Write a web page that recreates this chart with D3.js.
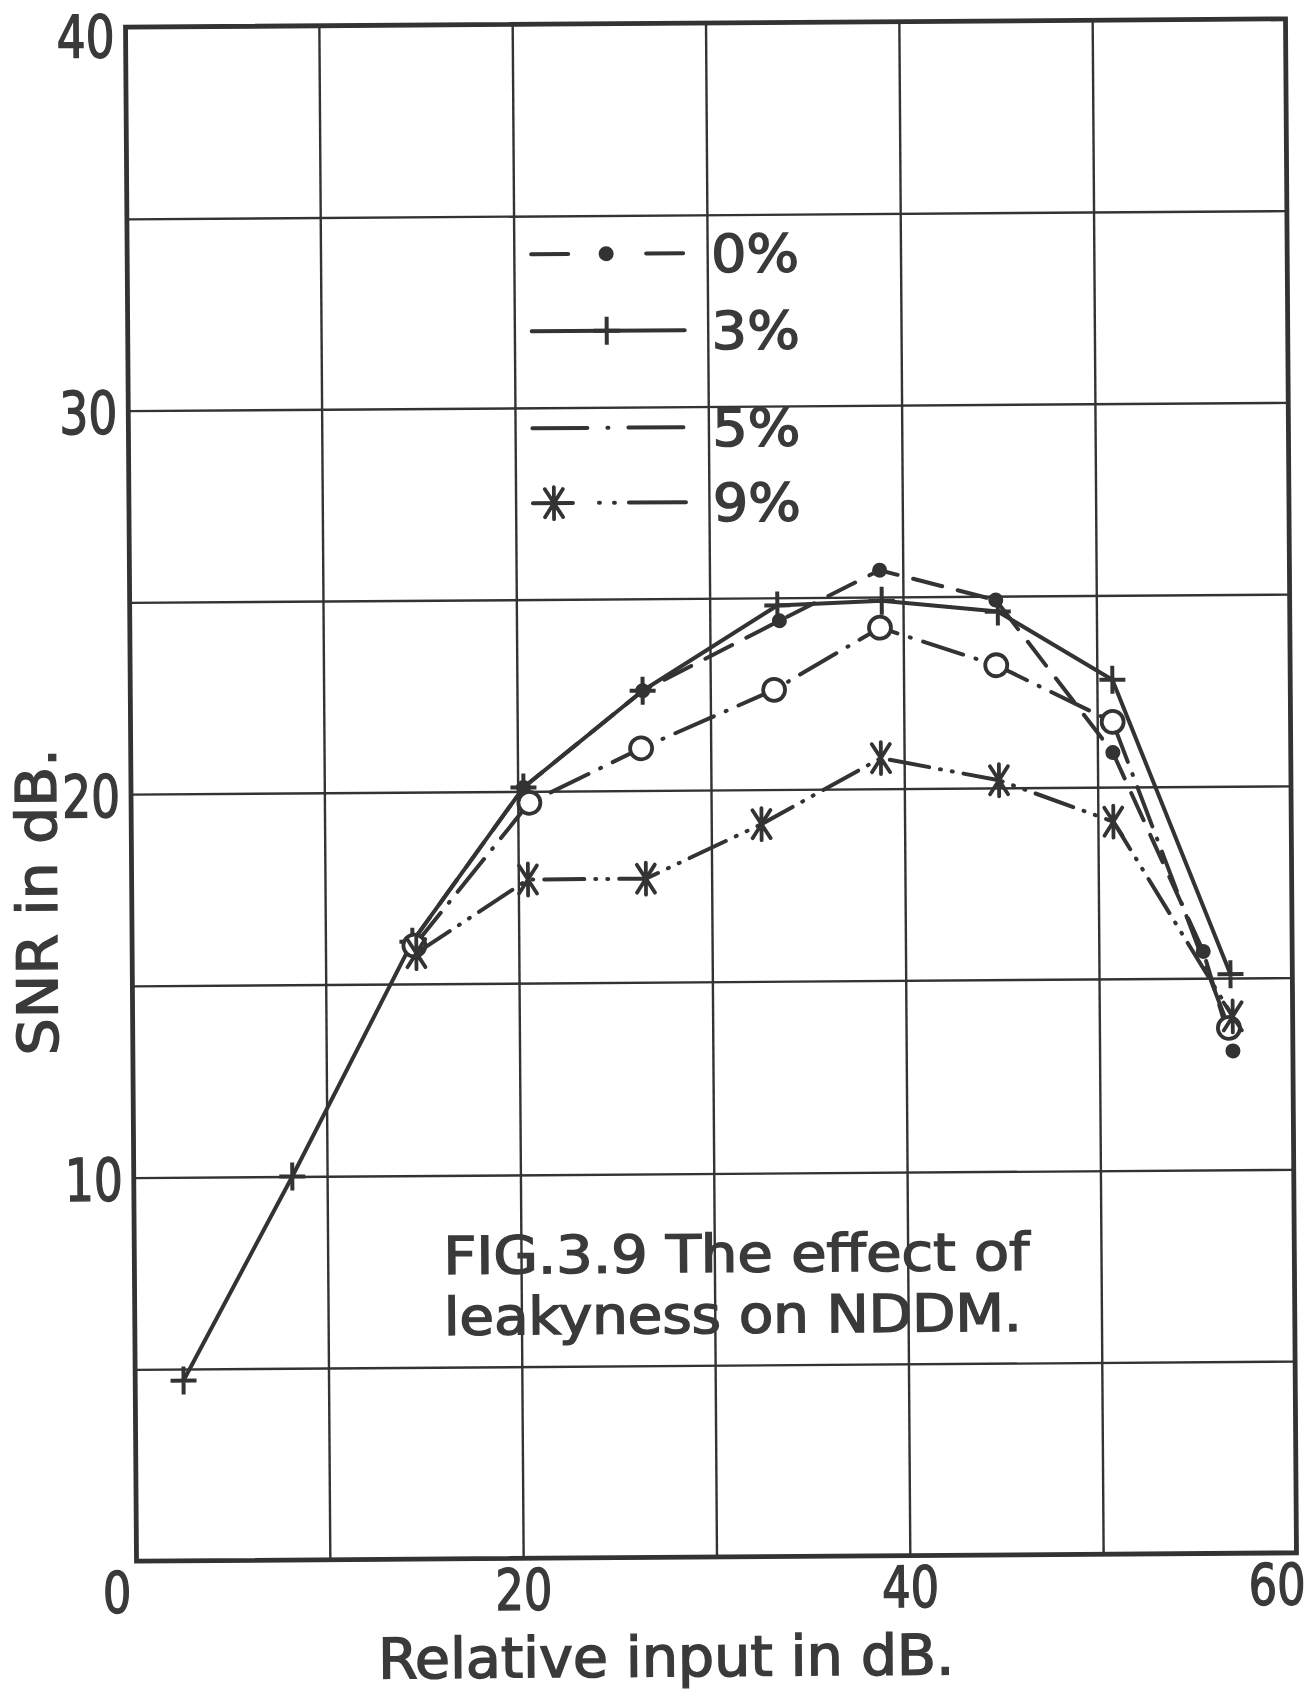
<!DOCTYPE html>
<html lang="en">
<head>
<meta charset="UTF-8">
<title>FIG 3.9 leakyness on NDDM</title>
<script src="https://cdn.jsdelivr.net/npm/d3@7"></script>
<style>
  body { margin: 0; background: #fff; }
  text { font-family: "DejaVu Sans Condensed", "DejaVu Sans", sans-serif; fill: #3a3a3a; stroke: #3a3a3a; stroke-width: 1.4px; }
</style>
</head>
<body>
<script>
// ---- data ----
const xTicks = [0, 10, 20, 30, 40, 50, 60];
const yTicks = [0, 5, 10, 15, 20, 25, 30, 35, 40];
const xLabels = [0, 20, 40, 60];
const yLabels = [10, 20, 30, 40];

const seriesNames = ['0%', '3%', '5%', '9%'];

const x0 = [14.5, 20.3, 26.5, 33.6, 38.8, 44.8, 50.8, 55.4, 56.9];
const y0 = [16.1, 20.1, 22.6, 24.4, 25.7, 24.9, 20.9, 15.7, 13.1];

const x3 = [2.5, 8.2, 14.5, 20.3, 26.5, 33.5, 38.9, 44.9, 50.8, 56.8];
const y3 = [4.7, 10.0, 16.1, 20.1, 22.6, 24.8, 24.9, 24.6, 22.8, 15.1];

const x5 = [14.6, 20.6, 26.4, 33.3, 38.8, 44.8, 50.8, 56.7];
const y5 = [16.0, 19.7, 21.1, 22.6, 24.2, 23.2, 21.7, 13.7];

const x9 = [14.7, 20.5, 26.6, 32.6, 38.8, 44.9, 50.8, 56.9];
const y9 = [15.8, 17.7, 17.7, 19.1, 20.8, 20.2, 19.1, 14.0];

const caption = ['FIG.3.9  The  effect  of', 'leakyness  on  NDDM.'];

// ---- layout ----
let width = 1316,
    height = 1690,
    margin = { top: 23, left: 131, right: 25, bottom: 133 };
let w = width - margin.left - margin.right,
    h = height - margin.top - margin.bottom;
const ink = '#333';

let svg = d3.select('body').append('svg').attr('width', width).attr('height', height);
// the scan is a little tilted
let root = svg.append('g').attr('transform', 'rotate(-0.41,711,790)');
let plot = root.append('g').attr('transform', `translate(${margin.left},${margin.top})`);

let x = d3.scaleLinear().domain([0, 60]).range([0, w]);
let y = d3.scaleLinear().domain([0, 40]).range([h, 0]);

// grid
plot.append('g')
    .attr('transform', `translate(0,${h})`)
    .call(d3.axisBottom(x).tickValues(xTicks).tickSize(-h).tickFormat(''))
    .call(g => g.select('.domain').remove())
    .selectAll('line').attr('stroke', ink).attr('stroke-width', 2.4);
plot.append('g')
    .call(d3.axisLeft(y).tickValues(yTicks).tickSize(-w).tickFormat(''))
    .call(g => g.select('.domain').remove())
    .selectAll('line').attr('stroke', ink).attr('stroke-width', 2.4);

// frame
plot.append('rect')
    .attr('width', w).attr('height', h)
    .attr('fill', 'none').attr('stroke', ink).attr('stroke-width', 4.8);

// tick labels
let xAxis = plot.append('g')
    .attr('transform', `translate(0,${h})`)
    .call(d3.axisBottom(x).tickValues(xLabels).tickSize(0).tickPadding(11));
xAxis.select('.domain').remove();
xAxis.selectAll('text')
    .attr('font-size', 57).attr('font-family', null)
    .attr('textLength', d => String(d).length * 28.5).attr('lengthAdjust', 'spacingAndGlyphs')
    .attr('dx', d => (d === 0 || d === 60) ? -20 : 0);

let yAxis = plot.append('g')
    .call(d3.axisLeft(y).tickValues(yLabels).tickSize(0).tickPadding(11));
yAxis.select('.domain').remove();
yAxis.selectAll('text')
    .attr('font-size', 59).attr('font-family', null)
    .attr('textLength', d => String(d).length * 29).attr('lengthAdjust', 'spacingAndGlyphs')
    .attr('dy', d => d === 40 ? '0.5em' : '0.38em');

// axis titles
root.append('text')
    .attr('x', 660).attr('y', 1676)
    .attr('text-anchor', 'middle')
    .attr('font-size', 56)
    .attr('textLength', 576).attr('lengthAdjust', 'spacingAndGlyphs')
    .text('Relative input in dB.');
root.append('text')
    .attr('transform', 'translate(56,897) rotate(-90)')
    .attr('text-anchor', 'middle')
    .attr('font-size', 56)
    .attr('textLength', 307).attr('lengthAdjust', 'spacingAndGlyphs')
    .text('SNR in dB.');

// caption
root.selectAll('.cap').data(caption).join('text')
    .attr('class', 'cap')
    .attr('x', 440).attr('y', (d, i) => 1272 + i * 61)
    .attr('font-size', 52)
    .attr('textLength', (d, i) => i === 0 ? 586 : 578)
    .attr('lengthAdjust', 'spacingAndGlyphs')
    .text(d => d);

// series
const seriesX = [x0, x3, x5, x9];
const seriesY = [y0, y3, y5, y9];
const dashes = ['30,16', null, '42,13,1,13', '40,11,1,11,1,11'];
const markers = ['dot', 'plus', 'ring', 'star'];

let series = seriesNames.map((name, i) => ({
    name: name,
    dash: dashes[i],
    marker: markers[i],
    points: seriesX[i].map((v, j) => [v, seriesY[i][j]])
}));

let line = d3.line().x(d => x(d[0])).y(d => y(d[1]));

function drawMarker(sel, type) {
    if (type === 'dot') {
        sel.append('circle').attr('r', 7.5).attr('fill', ink);
    } else if (type === 'plus') {
        sel.append('path').attr('d', 'M-13,0H13M0,-14V14')
            .attr('stroke', ink).attr('stroke-width', 4).attr('fill', 'none');
    } else if (type === 'ring') {
        sel.append('circle').attr('r', 11).attr('fill', '#fff')
            .attr('stroke', ink).attr('stroke-width', 3.8);
    } else if (type === 'star') {
        sel.append('path').attr('d', 'M0,-16V16M-9,-14L9,14M9,-14L-9,14')
            .attr('stroke', ink).attr('stroke-width', 3.8).attr('fill', 'none')
            .attr('stroke-linecap', 'round');
    }
}

let sg = plot.selectAll('.series').data(series).join('g').attr('class', 'series');
sg.append('path')
    .attr('d', d => line(d.points))
    .attr('fill', 'none')
    .attr('stroke', ink)
    .attr('stroke-width', 4)
    .attr('stroke-linejoin', 'round')
    .attr('stroke-linecap', 'round')
    .attr('stroke-dasharray', d => d.dash);
sg.each(function (d) {
    d3.select(this).selectAll('.mk').data(d.points).join('g')
        .attr('class', 'mk')
        .attr('transform', p => `translate(${x(p[0])},${y(p[1])})`)
        .each(function () { drawMarker(d3.select(this), d.marker); });
});

// legend
const legendY = [253, 330, 427, 502];
const legendDash = ['37,78,37', null, '55,20,1,20,55', '40,26,1,14,1,14,60'];
const legendMarkX = [610, 610, null, 556];

let lg = root.selectAll('.legend').data(series).join('g').attr('class', 'legend')
    .attr('transform', (d, i) => `translate(0,${legendY[i]})`);
lg.append('line')
    .attr('x1', 535).attr('x2', 688)
    .attr('stroke', ink).attr('stroke-width', 4)
    .attr('stroke-linecap', 'round')
    .attr('stroke-dasharray', (d, i) => legendDash[i]);
lg.each(function (d, i) {
    if (legendMarkX[i] !== null) {
        let m = d3.select(this).append('g').attr('transform', `translate(${legendMarkX[i]},0)`);
        drawMarker(m, d.marker);
    }
});
lg.append('text')
    .attr('x', 715).attr('y', 19)
    .attr('font-size', 52)
    .attr('textLength', 88).attr('lengthAdjust', 'spacingAndGlyphs')
    .text(d => d.name);
</script>
</body>
</html>
